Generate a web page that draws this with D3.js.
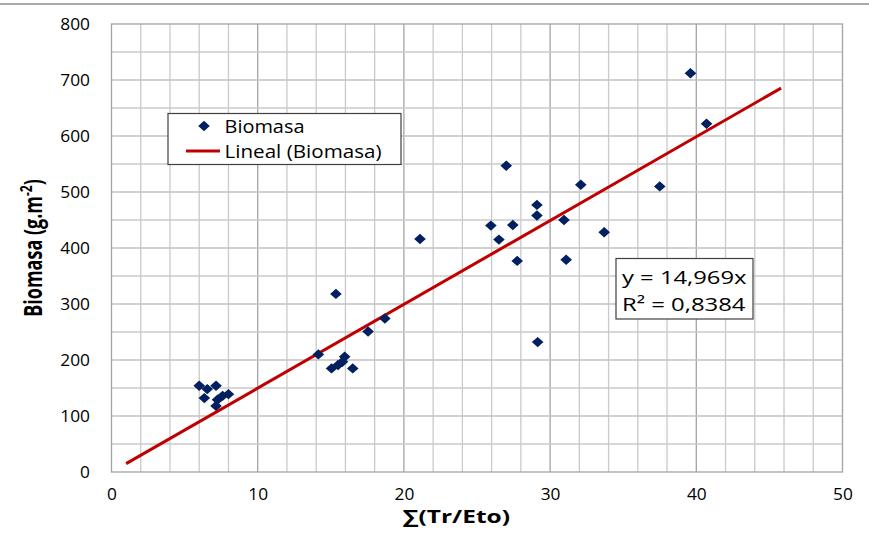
<!DOCTYPE html>
<html>
<head>
<meta charset="utf-8">
<script src="https://cdn.jsdelivr.net/npm/d3@7/dist/d3.min.js"></script>
<style>
  body { margin: 0; background: #fff; }
  text { font-family: "Open Sans", "DejaVu Sans", sans-serif; fill: #000; }
</style>
</head>
<body>
<svg id="chart" width="869" height="541"></svg>
<script>
// Accumulated transpiration ratio vs. above-ground biomass
const sumTrEto = [39.6, 40.7, 32.1, 37.5, 27.0, 29.1, 29.1, 30.95, 25.95, 27.45,
                  26.5, 27.75, 31.1, 33.7, 21.1, 29.15, 15.35, 18.7, 17.55, 14.15,
                  15.95, 15.05, 15.5, 16.5, 15.8, 6.0, 6.55, 7.15, 6.35, 7.25,
                  8.0, 7.15, 7.6];
const biomasa = [712, 622, 513, 510, 547, 477, 458, 450, 440, 441,
                 415, 377, 379, 428, 416, 232, 318, 274, 251, 210,
                 206, 185, 191, 185, 197, 154, 148, 154, 132, 129,
                 139, 118, 136];

const xTickValues = [0, 10, 20, 30, 40, 50];
const yTickValues = [0, 100, 200, 300, 400, 500, 600, 700, 800];

// Linear fit through the origin
const slope = 14.969;
const trendRange = [1, 45.8];
const equationText = "y = 14,969x";
const r2Text = "R² = 0,8384";

const seriesName = "Biomasa";
const trendName = "Lineal (Biomasa)";
const xTitle = "∑(Tr/Eto)";

const svg = d3.select("#chart");
const plot = { left: 111.5, right: 842.5, top: 24, bottom: 472 };

const x = d3.scaleLinear().domain([0, 50]).range([plot.left, plot.right]);
const y = d3.scaleLinear().domain([0, 800]).range([plot.bottom, plot.top]);

// Outer chart frame edge
svg.append("line")
  .attr("x1", 0).attr("x2", 869).attr("y1", 4).attr("y2", 4)
  .attr("stroke", "#8c8c8c").attr("stroke-width", 1.3);

// Grid: minor lines every 2 on x, every 50 on y; major vertical lines every 10
const grid = svg.append("g");
d3.range(2, 50, 2).forEach(v => {
  const major = v % 10 === 0;
  grid.append("line")
    .attr("x1", x(v)).attr("x2", x(v)).attr("y1", plot.top).attr("y2", plot.bottom)
    .attr("stroke", major ? "#a3a3a3" : "#cacaca").attr("stroke-width", 1.3);
});
d3.range(50, 800, 50).forEach(v => {
  grid.append("line")
    .attr("x1", plot.left).attr("x2", plot.right).attr("y1", y(v)).attr("y2", y(v))
    .attr("stroke", v % 100 === 0 ? "#c2c2c2" : "#cacaca").attr("stroke-width", 1.3);
});
// Plot area border
svg.append("rect")
  .attr("x", plot.left).attr("y", plot.top)
  .attr("width", plot.right - plot.left).attr("height", plot.bottom - plot.top)
  .attr("fill", "none").attr("stroke", "#a3a3a3").attr("stroke-width", 1.3);

// Axes (labels only; lines come from grid/border)
const digitW = 9.9;
const yAxis = svg.append("g")
  .attr("transform", `translate(${plot.left},0)`)
  .call(d3.axisLeft(y).tickValues(yTickValues).tickSize(0).tickPadding(21.5).tickFormat(d3.format("d")));
yAxis.select(".domain").remove();
yAxis.selectAll("text")
  .attr("font-size", 15.5).attr("font-family", "'Open Sans', sans-serif").attr("fill", "#000")
  .attr("dy", "0.36em")
  .each(function(d) {
    d3.select(this).attr("textLength", String(d).length * digitW).attr("lengthAdjust", "spacingAndGlyphs");
  });

const xAxis = svg.append("g")
  .attr("transform", `translate(0,${plot.bottom})`)
  .call(d3.axisBottom(x).tickValues(xTickValues).tickSize(0).tickPadding(22.5).tickFormat(d3.format("d")));
xAxis.select(".domain").remove();
xAxis.selectAll("text")
  .attr("font-size", 15.5).attr("font-family", "'Open Sans', sans-serif").attr("fill", "#000")
  .attr("dy", "0.36em")
  .each(function(d) {
    d3.select(this).attr("textLength", String(d).length * digitW).attr("lengthAdjust", "spacingAndGlyphs");
  });

// Axis titles
svg.append("text")
  .attr("x", 403).attr("y", 523)
  .attr("font-size", 18).attr("font-weight", "bold")
  .attr("textLength", 107).attr("lengthAdjust", "spacingAndGlyphs")
  .text(xTitle);

const yTitle = svg.append("text")
  .attr("transform", "translate(41.5,248) scale(1.4,1) rotate(-90)")
  .attr("text-anchor", "middle")
  .attr("font-size", 18).attr("font-weight", "bold");
yTitle.append("tspan").text("Biomasa (g.m");
yTitle.append("tspan").attr("font-size", 12).attr("dy", -7).text("-2");
yTitle.append("tspan").attr("dy", 7).text(")");

// Trend line
const line = d3.line().x(d => x(d)).y(d => y(slope * d));
svg.append("path")
  .datum(trendRange)
  .attr("d", line)
  .attr("fill", "none").attr("stroke", "#c00000").attr("stroke-width", 3);

// Data markers (diamonds)
const hw = 5.8, hh = 5.2;
const diamond = (cx, cy) => `M${cx},${cy - hh}L${cx + hw},${cy}L${cx},${cy + hh}L${cx - hw},${cy}Z`;
svg.append("g").selectAll("path")
  .data(sumTrEto.map((v, i) => [v, biomasa[i]]))
  .join("path")
  .attr("d", d => diamond(x(d[0]), y(d[1])))
  .attr("fill", "#002060");

// Legend
const legend = svg.append("g");
legend.append("rect")
  .attr("x", 168).attr("y", 113.5).attr("width", 233).attr("height", 51)
  .attr("fill", "#fff").attr("stroke", "#404040").attr("stroke-width", 1.2);
legend.append("path").attr("d", diamond(204, 126)).attr("fill", "#002060");
legend.append("text").attr("x", 224.5).attr("y", 132.5).attr("font-size", 18)
  .attr("textLength", 80).attr("lengthAdjust", "spacingAndGlyphs").text(seriesName);
legend.append("line").attr("x1", 186).attr("x2", 220).attr("y1", 151).attr("y2", 151)
  .attr("stroke", "#c00000").attr("stroke-width", 3);
legend.append("text").attr("x", 224.5).attr("y", 157.5).attr("font-size", 18)
  .attr("textLength", 157).attr("lengthAdjust", "spacingAndGlyphs").text(trendName);

// Equation label
const eq = svg.append("g");
eq.append("rect")
  .attr("x", 616).attr("y", 258.5).attr("width", 137).attr("height", 60.5)
  .attr("fill", "#fff").attr("stroke", "#404040").attr("stroke-width", 1.2);
eq.append("text").attr("x", 622).attr("y", 283.5).attr("font-size", 18.5)
  .attr("textLength", 124.5).attr("lengthAdjust", "spacingAndGlyphs").text(equationText);
eq.append("text").attr("x", 622).attr("y", 311).attr("font-size", 18.5)
  .attr("textLength", 123.5).attr("lengthAdjust", "spacingAndGlyphs").text(r2Text);
</script>
</body>
</html>
